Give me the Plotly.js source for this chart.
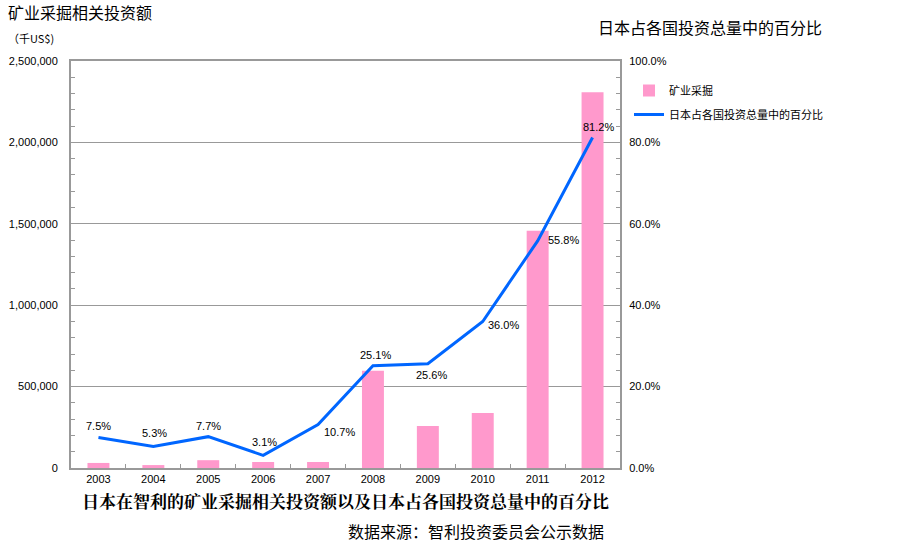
<!DOCTYPE html>
<html><head><meta charset="utf-8">
<script src="https://cdn.plot.ly/plotly-3.0.1.min.js"></script>
<style>body{margin:0;background:#fff}#c{width:905px;height:556px}</style>
</head><body><div id="c"></div>
<script>
const years = ['2003','2004','2005','2006','2007','2008','2009','2010','2011','2012'];
const investment = [31000, 18000, 48000, 37000, 37000, 597000, 258000, 338000, 1458000, 2308000];
const sharePct = [7.5, 5.3, 7.7, 3.1, 10.7, 25.1, 25.6, 36.0, 55.8, 81.2];
const labelShiftX = [0, 1, 0, 1, 21, 3, 4, 21, 26, 6];
const labelShiftY = [11, 13, 11, 13, -8, 11, -11, -4, 1, 11];
const barName = '矿业采掘';
const lineName = '日本占各国投资总量中的百分比';

const F = 'Liberation Sans, Arial, Noto Sans CJK SC, sans-serif';
const CJK = 'Noto Sans CJK SC, sans-serif';
const L = 71, R = 620, T = 61, B = 468;
const px = x => (x - L) / (R - L);
const py = y => (B - y) / (B - T);

const traces = [
  {type:'bar', x: years, y: investment, name: barName, legendgroup:'a', marker:{color:'#FF99CC'}, yaxis:'y', hoverinfo:'y'},
  {type:'scatter', mode:'lines', x: years, y: sharePct, name: lineName, legendgroup:'b', yaxis:'y2',
   line:{color:'#0066FF', width:3}}
];

// category axis: annotation x given as category index
const labelAnns = years.map((yr, i) => ({
  x: i, y: sharePct[i], xref:'x', yref:'y2', text: sharePct[i].toFixed(1) + '%',
  showarrow:false, xanchor:'center', yanchor:'middle',
  xshift: labelShiftX[i], yshift: labelShiftY[i],
  font:{family:F, size:11, color:'#000'}
}));

const layout = {
  width:905, height:556, paper_bgcolor:'#fff', plot_bgcolor:'#fff',
  margin:{l:L, r:905-R, t:T, b:556-B},
  bargap:0.6, showlegend:true,
  font:{family:F, size:11, color:'#000'},
  xaxis:{type:'category', range:[-0.5, years.length - 0.5], autorange:false, showline:true, linecolor:'#999', linewidth:2, mirror:true,
    ticks:'inside', tickson:'boundaries', ticklen:4, tickcolor:'#999',
    tickfont:{family:F, size:11, color:'#000'}, fixedrange:true},
  yaxis:{range:[0,2500000], dtick:500000, tickformat:',d', showgrid:true, gridcolor:'#999', gridwidth:1,
    showline:true, linecolor:'#999', linewidth:2, ticks:'inside', ticklen:4, tickcolor:'#999',
    minor:{dtick:100000, ticks:'inside', ticklen:4, tickcolor:'#999'},
    tickfont:{family:F, size:11, color:'#000'}, zeroline:false, ticklabelstandoff:9},
  yaxis2:{range:[0,100], dtick:20, overlaying:'y', side:'right', showgrid:false, zeroline:false,
    tickformat:'.1f', ticksuffix:'%', showline:true, linecolor:'#999', linewidth:2,
    ticks:'inside', ticklen:4, tickcolor:'#999',
    minor:{dtick:4, ticks:'inside', ticklen:4, tickcolor:'#999'},
    tickfont:{family:F, size:11, color:'#000'}, ticklabelstandoff:5},
  legend:{x:px(629), y:py(76), xanchor:'left', yanchor:'top', bgcolor:'rgba(0,0,0,0)',
    font:{family:CJK, size:11, color:'#000'}, itemwidth:30, tracegroupgap:5, traceorder:'grouped'},
  annotations: labelAnns.concat([
    {text:'矿业采掘相关投资额', xref:'paper', yref:'paper', x:px(6), y:py(12), xanchor:'left', yanchor:'middle', showarrow:false, font:{family:CJK, size:16, color:'#000'}},
    {text:'（千US$)', xref:'paper', yref:'paper', x:px(6), y:py(38), xanchor:'left', yanchor:'middle', showarrow:false, font:{family:CJK, size:11, color:'#000'}},
    {text:lineName, xref:'paper', yref:'paper', x:px(596), y:py(27), xanchor:'left', yanchor:'middle', showarrow:false, font:{family:CJK, size:16, color:'#000'}},
    {text:'<b>日本在智利的矿业采掘相关投资额以及日本占各国投资总量中的百分比</b>', xref:'paper', yref:'paper', x:px(345), y:py(500), xanchor:'center', yanchor:'middle', showarrow:false, font:{family:'Noto Serif CJK SC, Noto Sans CJK SC, serif', size:17, color:'#000'}},
    {text:'数据来源：智利投资委员会公示数据', xref:'paper', yref:'paper', x:px(476), y:py(531), xanchor:'center', yanchor:'middle', showarrow:false, font:{family:CJK, size:16, color:'#000'}}
  ])
};
Plotly.newPlot('c', traces, layout, {displayModeBar:false, staticPlot:true});
</script></body></html>
